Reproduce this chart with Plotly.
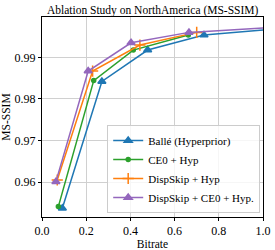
import plotly.graph_objects as go

series_names = ["Ballé (Hyperprior)", "CE0 + Hyp", "DispSkip + Hyp", "DispSkip + CE0 + Hyp."]
balle_x = [0.092, 0.271, 0.478, 0.733, 1.05]
balle_y = [0.9537, 0.9842, 0.99175, 0.99535, 0.9968]
ce0_x = [0.074, 0.234, 0.413, 0.662]
ce0_y = [0.9541, 0.9844, 0.99175, 0.99535]
disp_x = [0.069, 0.229, 0.443, 0.700]
disp_y = [0.9605, 0.9867, 0.99295, 0.9960]
dispce0_x = [0.063, 0.209, 0.403, 0.665, 1.05]
dispce0_y = [0.9601, 0.9867, 0.9935, 0.9960, 0.9972]
x_ticks = [0.0, 0.2, 0.4, 0.6, 0.8, 1.0]
y_ticks = [0.96, 0.97, 0.98, 0.99]

colors = ["#1f77b4", "#2ca02c", "#ff7f0e", "#9467bd"]
symbols = ["triangle-up", "circle", "cross-thin", "triangle-up"]
sizes = [7, 4, 8, 7]
data = [(balle_x, balle_y), (ce0_x, ce0_y), (disp_x, disp_y), (dispce0_x, dispce0_y)]

fig = go.Figure()
for name, (xs, ys), c, s, sz in zip(series_names, data, colors, symbols, sizes):
    fig.add_trace(go.Scatter(
        x=xs, y=ys, mode="lines+markers", name=name,
        line=dict(color=c, width=1.5),
        marker=dict(symbol=s, size=sz, color=c, line=dict(color=c, width=1.5)),
    ))

ff = "Liberation Serif"
fig.update_layout(
    width=275, height=250,
    margin=dict(l=42, r=12, t=17, b=33),
    paper_bgcolor="white", plot_bgcolor="white",
    font=dict(family=ff, size=12, color="black"),
    title=dict(text="Ablation Study on NorthAmerica (MS-SSIM)", x=0.555, xanchor="center",
               y=0.96, yanchor="middle", font=dict(family=ff, size=11.5, color="black")),
    showlegend=True,
    legend=dict(x=0.295, y=0.02, xanchor="left", yanchor="bottom",
                bgcolor="rgba(255,255,255,0.8)", bordercolor="#cccccc", borderwidth=1,
                font=dict(family=ff, size=11, color="black"), tracegroupgap=0, itemwidth=30),
)
fig.update_xaxes(
    range=[0, 1.0], tickvals=x_ticks, ticktext=[f"{v:.1f}" for v in x_ticks],
    tickfont=dict(family=ff, size=12, color="black"),
    showgrid=True, gridcolor="#d0d0d0", gridwidth=1,
    showline=True, linecolor="black", linewidth=1, mirror=True,
    ticks="outside", ticklen=3, tickcolor="black", zeroline=False, automargin=False,
    title=dict(text="Bitrate", standoff=2, font=dict(family=ff, size=11.5, color="black")),
)
fig.update_yaxes(
    range=[0.9516, 0.9997], tickvals=y_ticks, ticktext=[f"{v:.2f}" for v in y_ticks],
    tickfont=dict(family=ff, size=12, color="black"),
    showgrid=True, gridcolor="#d0d0d0", gridwidth=1,
    showline=True, linecolor="black", linewidth=1, mirror=True,
    ticks="outside", ticklen=3, tickcolor="black", zeroline=False, automargin=False,
    title=dict(text="MS-SSIM", standoff=3, font=dict(family=ff, size=11.5, color="black")),
)
fig.write_html("out.html", config={"displayModeBar": False},
               post_script="document.body.style.margin='0';")
